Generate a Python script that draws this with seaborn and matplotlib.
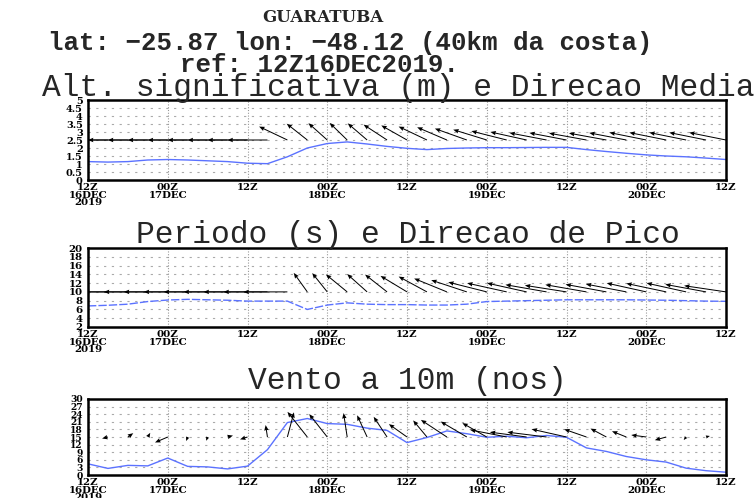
import numpy as np
import matplotlib
matplotlib.use("Agg")
import matplotlib.pyplot as plt
from matplotlib.ticker import FixedLocator, FuncFormatter, MultipleLocator
import seaborn as sns

# Passos de 3 h a partir de 12Z16DEC2019 (horas desde o início)
horas = np.arange(0, 97, 3)

# Altura significativa (m)
alt_sig = [1.15, 1.12, 1.15, 1.25, 1.28, 1.25, 1.20, 1.15, 1.05, 1.02,
           1.45, 2.00, 2.28, 2.38, 2.25, 2.10, 1.98, 1.90, 1.97, 2.00,
           2.02, 2.02, 2.03, 2.04, 2.04, 1.90, 1.78, 1.67, 1.57, 1.50,
           1.45, 1.37, 1.28]
# Direção média (graus, para onde a onda segue, a partir do norte)
dir_media = [270, 270, 270, 270, 270, 270, 270, 270, 270, 270,
             315, 329, 332, 334, 331, 324, 320, 315, 312, 307,
             303, 298, 295, 292, 292, 291, 291, 292, 293, 293,
             293, 293, 293]

# Período de pico (s)
periodo = [6.80, 6.95, 7.20, 7.80, 8.15, 8.30, 8.20, 8.10, 7.90, 7.90,
           7.90, 6.00, 7.00, 7.50, 7.20, 7.10, 7.10, 7.00, 7.00, 7.20,
           7.80, 7.90, 8.00, 8.10, 8.20, 8.20, 8.20, 8.20, 8.15, 8.10,
           8.00, 7.90, 7.85]
# Direção de pico (graus, para onde a onda segue)
dir_pico = [270, 270, 270, 270, 270, 270, 270, 270, 270, 270,
            270, 342, 340, 331, 333, 330, 323, 320, 312, 306,
            299, 296, 296, 291, 289, 291, 292, 293, 296, 295,
            296, 292, 288]

# Vento a 10 m (nós) e direção para onde sopra (graus)
vento_vel = [4.4, 2.6, 3.8, 3.6, 6.7, 3.4, 3.2, 2.4, 3.5, 10.0,
             20.7, 22.3, 20.3, 20.0, 18.5, 17.6, 12.8, 14.8, 17.4, 16.3,
             14.9, 15.3, 14.7, 15.6, 14.9, 10.7, 9.3, 7.3, 6.0, 5.1,
             2.7, 1.7, 1.1]
vento_dir = [225, 240, 33, 15, 227, 190, 190, 60, 235, 356,
             7, 340, 340, 356, 348, 343, 327, 339, 325, 322,
             321, 293, 286, 285, 296, 307, 319, 311, 286, 239,
             200, 60, 60]

pos_x = [0, 12, 24, 36, 48, 60, 72, 84, 96]
rotulos_x = ["12Z\n16DEC\n2019", "00Z\n17DEC", "12Z", "00Z\n18DEC", "12Z",
             "00Z\n19DEC", "12Z", "00Z\n20DEC", "12Z"]

sns.set_style("white")
plt.rcParams["font.family"] = ["DejaVu Serif"]

W, H = 754, 498
fig = plt.figure(figsize=(W / 100, H / 100), dpi=100)
azul = "#5b72ff"
fonte_tit = ["Liberation Mono", "DejaVu Sans Mono"]


def eixo(x0, x1, y_top, y_bot):
    return fig.add_axes([x0 / W, 1 - y_bot / H, (x1 - x0) / W, (y_bot - y_top) / H])


def formatar(ax, ymin, ymax, passo, tam_y):
    ax.set_xlim(0, 96)
    ax.set_ylim(ymin, ymax)
    ax.xaxis.set_major_locator(FixedLocator(pos_x))
    ax.set_xticklabels(rotulos_x)
    ax.xaxis.set_minor_locator(MultipleLocator(3))
    ax.yaxis.set_major_locator(MultipleLocator(passo))
    ax.yaxis.set_major_formatter(FuncFormatter(lambda v, p: "%g" % v))
    ax.tick_params(axis="x", which="major", direction="out", length=2,
                   width=1, pad=0.5, labelsize=7.4, colors="black")
    ax.tick_params(axis="y", which="major", direction="out", length=3,
                   width=1, pad=0.8, labelsize=tam_y, colors="black")
    ax.tick_params(axis="x", which="minor", direction="out", length=2, width=0.8)
    for lbl in ax.get_xticklabels() + ax.get_yticklabels():
        lbl.set_fontweight("bold")
        lbl.set_linespacing(0.72)
    ax.grid(False)
    for v in np.arange(ymin + passo, ymax, passo):
        ax.axhline(v, color="#aaaaaa", lw=0.8, ls=(0, (2, 5)), zorder=0)
    for v in pos_x[1:-1]:
        ax.axvline(v, color="#999999", lw=0.8, ls=(0, (1, 1.5)), zorder=0)
    for s in ax.spines.values():
        s.set_color("black")
        s.set_linewidth(1.8)
    ax.set_xlabel("")
    ax.set_ylabel("")


def setas(ax, y0, direcao, modulo, ex, ey):
    d = np.deg2rad(np.asarray(direcao, dtype=float))
    m = np.asarray(modulo, dtype=float)
    u = ex * m * np.sin(d)
    v = ey * m * np.cos(d)
    ax.quiver(horas, np.full(len(horas), y0), u, v, angles="uv",
              scale_units="dots", scale=1, units="dots", width=1.0,
              headwidth=4.5, headlength=5.5, headaxislength=5,
              minshaft=1, minlength=0.3, pivot="tail", color="black",
              zorder=3)


# Painel 1: altura significativa e direção média
ax1 = eixo(88, 726, 100, 180)
sns.lineplot(x=horas, y=alt_sig, ax=ax1, color=azul, lw=1.0)
setas(ax1, 2.5, dir_media, np.ones(len(horas)), 40, 19)
formatar(ax1, 0, 5, 0.5, 7.0)

# Painel 2: período e direção de pico
ax2 = eixo(88, 726, 248, 327)
sns.lineplot(x=horas, y=periodo, ax=ax2, color=azul, lw=1.0)
ax2.lines[0].set_linestyle((0, (6, 1.5)))
setas(ax2, 10, dir_pico, np.ones(len(horas)), 44, 20)
formatar(ax2, 2, 20, 2, 7.4)

# Painel 3: vento a 10 m
ax3 = eixo(88, 726, 399, 475)
sns.lineplot(x=horas, y=vento_vel, ax=ax3, color=azul, lw=1.0)
setas(ax3, 15, vento_dir, vento_vel, 2.6, 1.2)
formatar(ax3, 0, 30, 3, 6.6)

# Cabeçalho e títulos
def texto(x, y, s, tam, peso="normal", fam=fonte_tit):
    fig.text(x / W, 1 - y / H, s, ha="center", va="center", fontsize=tam,
             fontweight=peso, family=fam)

texto(323, 18, "GUARATUBA", 12, "bold", ["DejaVu Serif"])
texto(350, 43, "lat: \u221225.87 lon: \u221248.12 (40km da costa)", 18.5, "bold")
texto(320, 65, "ref: 12Z16DEC2019.", 18.5, "bold")
texto(398, 88, "Alt. significativa (m) e Direcao Media", 22.5)
texto(408, 235, "Periodo (s) e Direcao de Pico", 22.5)
texto(407, 381, "Vento a 10m (nos)", 22.5)

fig.savefig("out.png", dpi=100, facecolor="white")
